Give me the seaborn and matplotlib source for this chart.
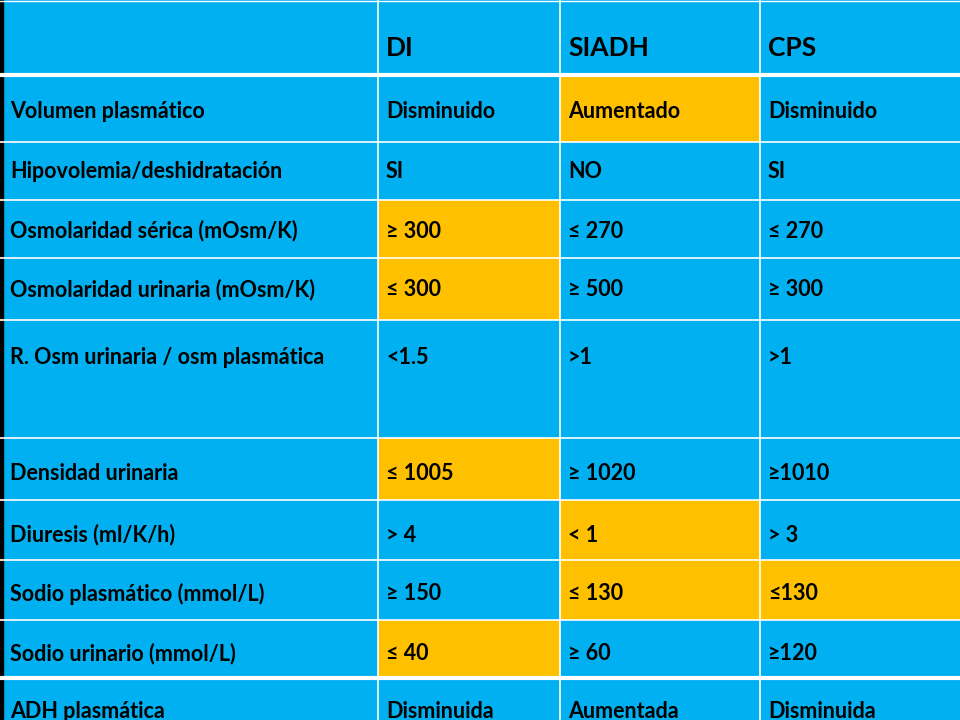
import numpy as np
import matplotlib.pyplot as plt
import seaborn as sns
from matplotlib.colors import ListedColormap

# table content
header = ['', 'DI', 'SIADH', 'CPS']
row_labels = ['Volumen plasmático', 'Hipovolemia/deshidratación',
              'Osmolaridad sérica (mOsm/K)', 'Osmolaridad urinaria (mOsm/K)',
              'R. Osm urinaria / osm plasmática', 'Densidad urinaria',
              'Diuresis (ml/K/h)', 'Sodio plasmático (mmol/L)',
              'Sodio urinario (mmol/L)', 'ADH plasmática']
di = ['Disminuido', 'SI', '≥ 300', '≤ 300', '<1.5', '≤ 1005', '> 4', '≥ 150', '≤ 40', 'Disminuida']
siadh = ['Aumentado', 'NO', '≤ 270', '≥ 500', '>1', '≥ 1020', '< 1', '≤ 130', '≥ 60', 'Aumentada']
cps = ['Disminuido', 'SI', '≤ 270', '≥ 300', '>1', '≥1010', '> 3', '≤130', '≥120', 'Disminuida']
# 1 = highlighted (gold) cell, per data column DI / SIADH / CPS
highlight = [[0, 1, 0], [0, 0, 0], [1, 0, 0], [1, 0, 0], [0, 0, 0],
             [1, 0, 0], [0, 1, 0], [0, 1, 1], [1, 0, 0], [0, 0, 0]]

# layout in pixels
row_edges = [0, 75, 142, 200, 258, 320, 438, 500, 560, 620, 678, 740]
col_edges = [0, 378, 560, 760, 960]
text_y = [48, 112, 171, 231, 290, 357, 473, 535, 594, 654, 712]
BLUE, GOLD = '#00B0F0', '#FFC000'

# cell flag matrix incl. header row and label column
flags = np.zeros((len(row_edges) - 1, len(col_edges) - 1))
flags[1:, 1:] = np.array(highlight)
heights = np.diff(row_edges)
widths = np.diff(col_edges)
grid = np.repeat(np.repeat(flags, heights, axis=0), widths, axis=1)

fig = plt.figure(figsize=(9.6, 7.2), dpi=100)
ax = fig.add_axes([0, 0, 1, 1])
sns.heatmap(grid, ax=ax, cmap=ListedColormap([BLUE, GOLD]), vmin=0, vmax=1,
            cbar=False, xticklabels=False, yticklabels=False, rasterized=True)
ax.set_xlim(0, 960)
ax.set_ylim(720, 0)

# white grid lines
for i, y in enumerate(row_edges[1:-1], start=1):
    lw = 3 if i in (1, len(row_edges) - 2) else 1.2
    ax.axhline(y, color='white', lw=lw)
ax.axhline(1, color='white', lw=1)
for x in col_edges[1:-1]:
    ax.axvline(x, color='white', lw=1.2)
ax.axvspan(0, 3, color='black')

font = 'Lato'
for j, h in enumerate(header):
    ax.text(col_edges[j] + 8, text_y[0], h, fontsize=19, fontweight='bold',
            family=font, va='center', ha='left')
columns = [row_labels, di, siadh, cps]
for j, col in enumerate(columns):
    for i, t in enumerate(col):
        ax.text(col_edges[j] + (10 if j == 0 else 8), text_y[i + 1], t,
                fontsize=15.5, fontweight='bold', family=font,
                va='center', ha='left')

ax.axis('off')
fig.savefig('out.png', dpi=100)
